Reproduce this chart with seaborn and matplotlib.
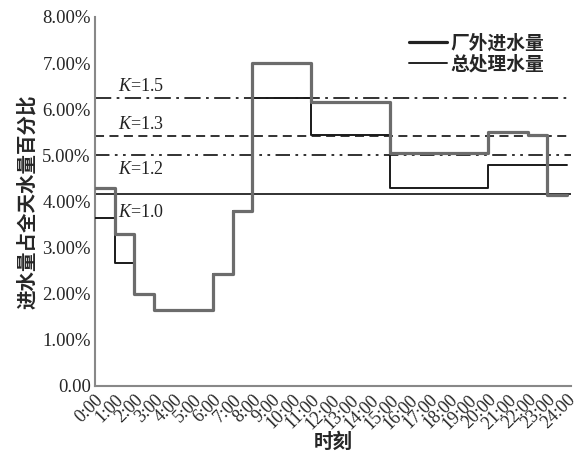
import numpy as np
import pandas as pd
import matplotlib
matplotlib.use("Agg")
import matplotlib.pyplot as plt
import seaborn as sns

sns.set_theme(style="white")
plt.rcParams["font.family"] = ["Liberation Serif", "Noto Sans CJK SC"]
plt.rcParams["mathtext.fontset"] = "custom"
plt.rcParams["mathtext.rm"] = "Liberation Serif"
plt.rcParams["mathtext.it"] = "Liberation Serif:italic"

# Hourly share of daily volume (%), one value per hour 0:00-23:00
hours = list(range(25))
inflow = [4.30, 3.30, 2.00, 1.65, 1.65, 1.65, 2.43, 3.80, 7.00, 7.00, 7.00,
          6.15, 6.15, 6.15, 6.15, 5.05, 5.05, 5.05, 5.05, 5.05, 5.50, 5.50,
          5.43, 4.15]
treated = [3.65, 2.67, 2.00, 1.65, 1.65, 1.65, 2.43, 3.80, 6.25, 6.25, 6.25,
           5.43, 5.43, 5.43, 5.43, 4.30, 4.30, 4.30, 4.30, 4.30, 4.78, 4.78,
           4.78, 4.78]
series_names = ["厂外进水量", "总处理水量"]

# Peak-factor reference levels: K / 24 h
k_values = [1.0, 1.2, 1.3, 1.5]
k_levels = [4.17, 5.00, 5.42, 6.25]
k_styles = ["-", (0, (8, 3, 1.5, 3, 1.5, 3)), (0, (5, 3)), (0, (9, 3, 1.5, 3))]
k_label_offsets = [-0.42, -0.30, 0.25, 0.25]

tick_labels = [f"{h}:00" for h in hours]

df = pd.concat([
    pd.DataFrame({"hour": hours, "share": inflow + [inflow[-1]], "series": series_names[0]}),
    pd.DataFrame({"hour": hours, "share": treated + [treated[-1]], "series": series_names[1]}),
])

fig = plt.figure(figsize=(5.86, 4.54), dpi=100)
ax = fig.add_axes([0.162, 0.150, 0.812, 0.8126])

for y, ls in zip(k_levels, k_styles):
    ax.axhline(y, color="#222222", lw=1.3, linestyle=ls, zorder=1)
for k, y, off in zip(k_values, k_levels, k_label_offsets):
    ax.text(1.15, y + off, f"$K$={k:.1f}", fontsize=13, va="center",
            ha="left", color="#222222", family="Liberation Serif")

sns.lineplot(data=df[df.series == series_names[0]], x="hour", y="share",
             drawstyle="steps-post", color="#6c6c6c", lw=2.3, ax=ax,
             label=series_names[0], zorder=4)
sns.lineplot(data=df[df.series == series_names[1]], x="hour", y="share",
             drawstyle="steps-post", color="#1a1a1a", lw=1.4, ax=ax,
             label=series_names[1], zorder=3)

ax.set_xlim(0, 24.2)
ax.set_ylim(0, 8)
ax.set_xticks(hours)
ax.set_xticklabels(tick_labels, rotation=45, ha="right", rotation_mode="anchor",
                   fontsize=13, family="Liberation Serif")
yt = np.arange(0, 9)
ax.set_yticks(yt)
ax.set_yticklabels(["0.00"] + [f"{v:.2f}%" for v in yt[1:]], fontsize=13.5,
                   family="Liberation Serif")
ax.tick_params(axis="both", direction="in", length=3, width=1, color="#888888",
               pad=3)
ax.tick_params(axis="x", pad=4)

for side in ["top", "right"]:
    ax.spines[side].set_visible(False)
for side in ["left", "bottom"]:
    ax.spines[side].set_color("#888888")
    ax.spines[side].set_linewidth(1.5)

ax.set_xlabel("时刻", fontsize=14, fontweight="bold", family="Noto Sans CJK SC",
              labelpad=0)
ax.set_ylabel("进水量占全天水量百分比", fontsize=14, fontweight="bold",
              family="Noto Sans CJK SC", labelpad=4)

leg = ax.legend(loc="upper right", bbox_to_anchor=(0.98, 1.0), frameon=False,
                prop={"family": "Noto Sans CJK SC", "weight": "bold", "size": 13.5},
                handlelength=2.0, handletextpad=0.2, labelspacing=0.1)
for h in leg.get_lines():
    h.set_color("#222222")

fig.savefig("out.png", dpi=100)
